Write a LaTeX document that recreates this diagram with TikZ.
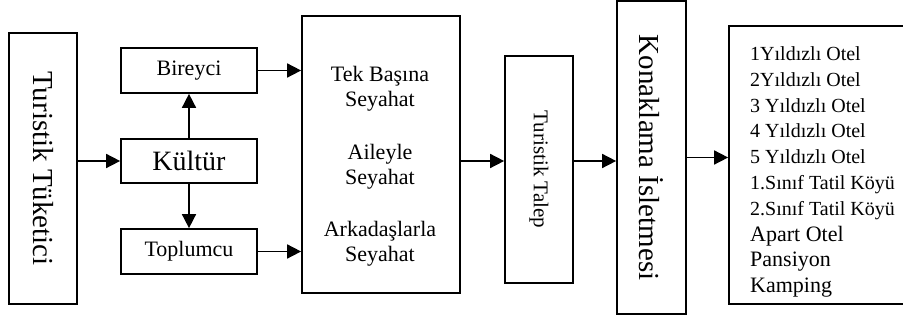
\documentclass[tikz,border=0pt]{standalone}
\usepackage{fontspec}
\usepackage{graphicx}
\setmainfont{Liberation Serif}
\usetikzlibrary{arrows.meta}
\begin{document}
\begin{tikzpicture}[x=1pt,y=-1pt,
  box/.style={draw, line width=1.7pt, inner sep=0pt, align=center},
  arr/.style={line width=1.6pt, -{Triangle[length=14pt,width=14pt]}},
  small/.style={font=\fontsize{22}{25.5}\selectfont},
  big/.style={font=\fontsize{29}{32}\selectfont}]
\useasboundingbox (0,0) rectangle (903,320);

% left column
\node[box, big, minimum width=68pt, minimum height=271pt] (tuk) at (43,168.5)
  {\rotatebox{-90}{Turistik Tüketici}};

% culture branch
\node[box, small, minimum width=136pt, minimum height=45pt] (bir) at (189,70.5) {Bireyci};
\node[box, font=\fontsize{28}{30}\selectfont, minimum width=136pt, minimum height=44pt] (kul) at (189,161) {Kültür};
\node[box, small, minimum width=136pt, minimum height=45pt] (top) at (189,251.5) {Toplumcu};

% travel types
\node[box, minimum width=158pt, minimum height=277pt] (sey) at (381,154.5) {};
\node[small, align=center] (seytxt) at (380,166)
  {Tek Başına\\Seyahat\\[27pt]Aileyle\\Seyahat\\[26pt]Arkadaşlarla\\Seyahat};

% demand
\node[box, font=\fontsize{21}{24}\selectfont, minimum width=68pt, minimum height=227pt] (tal) at (539,169.5)
  {\rotatebox{-90}{Turistik Talep}};

% accommodation
\node[box, big, minimum width=69pt, minimum height=313pt] (kon) at (651.5,157.5)
  {\rotatebox{-90}{Konaklama İsletmesi}};

\node[box, minimum width=191pt, minimum height=278pt] (lst) at (824.5,165) {};
\node[anchor=west, inner sep=0pt, align=left, font=\fontsize{20}{25.8}\selectfont] (lsttxt) at (750,172)
  {1Yıldızlı Otel\\2Yıldızlı Otel\\3 Yıldızlı Otel\\4 Yıldızlı Otel\\5 Yıldızlı Otel\\
   1.Sınıf Tatil Köyü\\2.Sınıf Tatil Köyü\\{\fontsize{22}{25.8}\selectfont Apart Otel}\\
   {\fontsize{22}{25.8}\selectfont Pansiyon}\\{\fontsize{22}{25.8}\selectfont Kamping}};

% connectors
\draw[arr] (tuk.east |- kul.west) -- (kul.west);
\draw[arr] (kul.north) -- (bir.south);
\draw[arr] (kul.south) -- (top.north);
\draw[arr] (bir.east) -- (sey.west |- bir.east);
\draw[arr] (top.east) -- (sey.west |- top.east);
\draw[arr] (sey.east |- kul.east) -- (tal.west |- kul.east);
\draw[arr] (tal.east |- kul.east) -- (kon.west |- kul.east);
\draw[arr] (kon.east) -- (lst.west |- kon.east);
\end{tikzpicture}
\end{document}
